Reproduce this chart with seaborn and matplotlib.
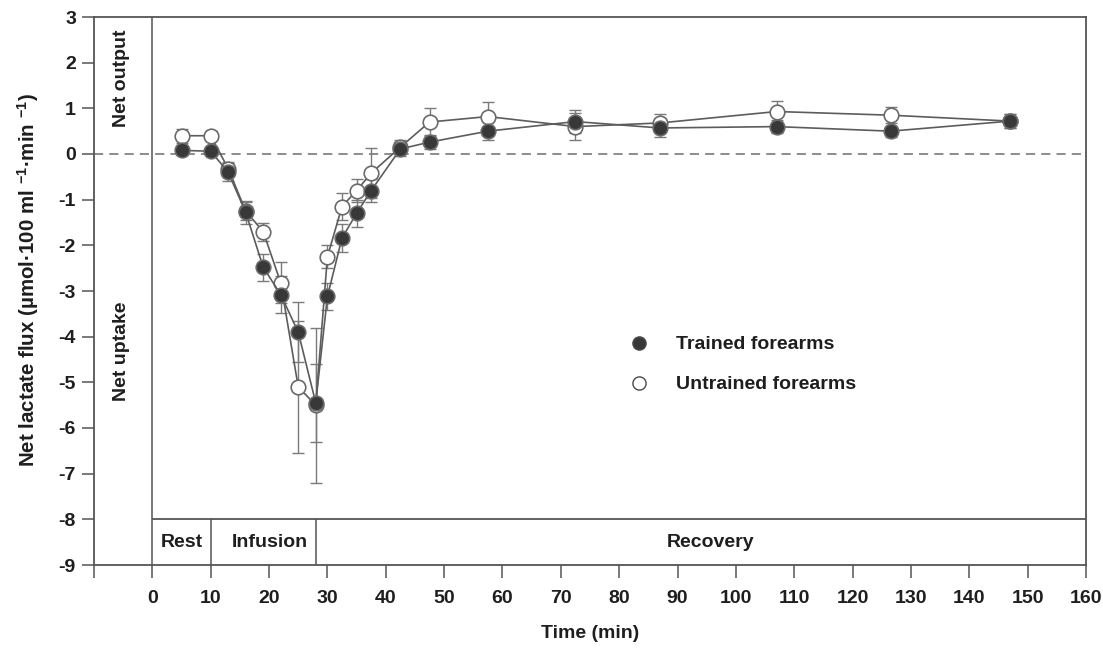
import numpy as np
import pandas as pd
import matplotlib
matplotlib.use("Agg")
import matplotlib.pyplot as plt
from matplotlib.lines import Line2D
import seaborn as sns

# Sampling times (min) and net lactate flux (mean ± SE)
time = [5, 10, 13, 16, 19, 22, 25, 28, 30, 32.5, 35, 37.5, 42.5, 47.5, 57.5, 72.5, 87, 107, 126.5, 147]
trained = [0.08, 0.06, -0.40, -1.28, -2.48, -3.08, -3.90, -5.45, -3.12, -1.84, -1.30, -0.80,
           0.11, 0.26, 0.50, 0.71, 0.57, 0.60, 0.50, 0.72]
trained_se = [0.10, 0.10, 0.20, 0.25, 0.30, 0.40, 0.65, 0.85, 0.30, 0.30, 0.30, 0.25,
              0.15, 0.15, 0.20, 0.25, 0.20, 0.15, 0.12, 0.15]
untrained = [0.40, 0.40, -0.32, -1.25, -1.70, -2.82, -5.10, -5.50, -2.25, -1.15, -0.80, -0.42,
             0.15, 0.70, 0.82, 0.60, 0.68, 0.93, 0.85, 0.72]
untrained_se = [0.15, 0.10, 0.15, 0.20, 0.20, 0.45, 1.44, 1.70, 0.25, 0.30, 0.25, 0.55,
                0.15, 0.30, 0.32, 0.30, 0.20, 0.22, 0.18, 0.15]

x_ticks = list(range(-10, 161, 10))
y_ticks = list(range(-9, 4))
phases = ["Rest", "Infusion", "Recovery"]
phase_bounds = [0, 10, 28, 160]
phase_label_x = [5.1, 20.2, 95.7]
series_labels = ["Trained forearms", "Untrained forearms"]

sns.set_theme(style="ticks")
plt.rcParams["font.family"] = ["Liberation Sans", "DejaVu Sans"]
plt.rcParams["font.weight"] = "bold"
plt.rcParams["mathtext.fontset"] = "custom"
plt.rcParams["mathtext.rm"] = "Liberation Sans"
plt.rcParams["mathtext.bf"] = "Liberation Sans:bold"
plt.rcParams["mathtext.default"] = "bf"

FS = 14
W, H = 1103, 651
fig = plt.figure(figsize=(W / 100, H / 100), dpi=100)
ax = fig.add_axes([94 / W, 1 - 565 / H, (1086 - 94) / W, (565 - 17) / H])

line_col = "#5c5c5c"
frame_col = "#555555"
txt_col = "#1e1e1e"

df = pd.DataFrame({"time": time, "trained": trained, "untrained": untrained})

# Error bars first so the markers sit on top
ax.errorbar(time, untrained, yerr=untrained_se, fmt="none", ecolor="#7a7a7a",
            elinewidth=1.0, capsize=4.5, capthick=1.0, zorder=2)
ax.errorbar(time, trained, yerr=trained_se, fmt="none", ecolor="#7a7a7a",
            elinewidth=1.0, capsize=4.5, capthick=1.0, zorder=2)

sns.lineplot(data=df, x="time", y="untrained", ax=ax, color=line_col, lw=1.2,
             marker="o", markersize=10.5, markerfacecolor="white",
             markeredgecolor="#6a6a6a", markeredgewidth=1.2, zorder=3, legend=False)
sns.lineplot(data=df, x="time", y="trained", ax=ax, color=line_col, lw=1.2,
             marker="o", markersize=10.5, markerfacecolor="#383838",
             markeredgecolor="#6a6a6a", markeredgewidth=1.2, zorder=4, legend=False)

# Zero line and the phase strip along the bottom
ax.axhline(0, color="#6e6e6e", lw=1.1, ls=(0, (6, 4)), zorder=1)
ax.axvline(0, color=frame_col, lw=1.1, zorder=1)
ax.hlines(-8, phase_bounds[0], phase_bounds[-1], color=frame_col, lw=1.3, zorder=1)
ax.vlines(phase_bounds[1:3], -9, -8, color=frame_col, lw=1.1, zorder=1)
for name, xc in zip(phases, phase_label_x):
    ax.text(xc, -8.5, name, ha="center", va="center", fontsize=FS,
            fontweight="bold", color=txt_col)

ax.text(-5.3, 1.65, "Net output", rotation=90, ha="center", va="center",
        fontsize=FS, fontweight="bold", color=txt_col)
ax.text(-5.3, -4.33, "Net uptake", rotation=90, ha="center", va="center",
        fontsize=FS, fontweight="bold", color=txt_col)

ax.set_xlim(-10, 160)
ax.set_ylim(-9, 3)
ax.set_xticks(x_ticks)
ax.set_xticklabels(["" if t < 0 else str(t) for t in x_ticks])
ax.set_yticks(y_ticks)
ax.set_yticklabels([str(t) for t in y_ticks])
ax.tick_params(axis="both", direction="out", length=9, width=1.1, color=frame_col,
               labelsize=FS, labelcolor=txt_col)
ax.tick_params(axis="x", pad=9)
ax.tick_params(axis="y", pad=4)
for lab in ax.get_xticklabels() + ax.get_yticklabels():
    lab.set_fontweight("bold")
for sp in ax.spines.values():
    sp.set_visible(True)
    sp.set_color(frame_col)
    sp.set_linewidth(1.3)

ax.set_xlabel("Time (min)", fontsize=FS, fontweight="bold", color=txt_col, va="center")
ax.xaxis.set_label_coords((590 - 94) / 992, (565 - 633) / 548)
ax.set_ylabel(r"Net lactate flux (µmol·100 ml $^{-1}$·min $^{-1}$)", fontsize=14.8,
              fontweight="bold", color=txt_col, va="center")
ax.yaxis.set_label_coords((28 - 94) / 992, (565 - 280) / 548)

handles = [
    Line2D([], [], ls="none", marker="o", markersize=9.5, markerfacecolor="#383838",
           markeredgecolor="#4a4a4a", markeredgewidth=1.0),
    Line2D([], [], ls="none", marker="o", markersize=9.5, markerfacecolor="white",
           markeredgecolor="#4a4a4a", markeredgewidth=1.0),
]
leg = ax.legend(handles, series_labels, loc="upper left",
                bbox_to_anchor=(620 / W, 1 - 328 / H), bbox_transform=fig.transFigure,
                frameon=False, fontsize=FS, labelspacing=1.15, handletextpad=1.3,
                handlelength=1.2, borderaxespad=0)
for t in leg.get_texts():
    t.set_fontweight("bold")
    t.set_color(txt_col)

fig.savefig("out.png", dpi=100)
